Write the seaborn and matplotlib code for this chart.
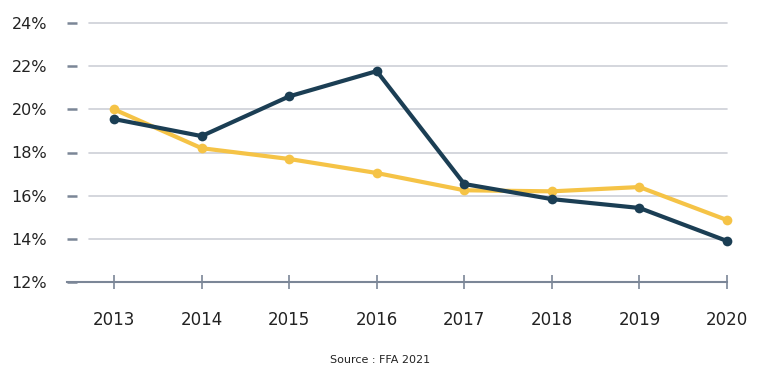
import matplotlib
matplotlib.use("Agg")
import matplotlib.pyplot as plt
import seaborn as sns
import pandas as pd

years = [2013, 2014, 2015, 2016, 2017, 2018, 2019, 2020]
series_dark = [19.55, 18.76, 20.6, 21.77, 16.54, 15.84, 15.43, 13.9]
series_yellow = [20.0, 18.2, 17.7, 17.05, 16.25, 16.2, 16.4, 14.87]
y_ticks = [12, 14, 16, 18, 20, 22, 24]
y_labels = ["12%", "14%", "16%", "18%", "20%", "22%", "24%"]
source = "Source : FFA 2021"

sns.set_theme(style="white")
plt.rcParams['font.family'] = ['DejaVu Sans']

df = pd.DataFrame({
    "year": years * 2,
    "value": series_yellow + series_dark,
    "series": ["yellow"] * len(years) + ["dark"] * len(years),
})

fig = plt.figure(figsize=(7.67, 3.78), dpi=100)
ax = fig.add_axes([67/767, 1 - 282/378, (727 - 67)/767, (282 - 23)/378])

palette = {"yellow": "#f5c346", "dark": "#1b3e54"}
sns.lineplot(data=df, x="year", y="value", hue="series", palette=palette,
             hue_order=["yellow", "dark"], marker="o", markersize=7,
             markeredgewidth=0, linewidth=3, ax=ax, legend=False)
for l in ax.lines:
    l.set_clip_on(False)

grid_col = "#cdd0d7"
tick_col = "#7b8697"
for yv in y_ticks[1:]:
    ax.axhline(yv, xmin=22/660, xmax=1, color=grid_col, lw=1.2, zorder=0, clip_on=False)

ax.set_xlim(2013 - 47/87.57, 2020)
ax.set_ylim(12, 24)
ax.set_yticks(y_ticks)
ax.set_yticklabels(y_labels)
ax.set_xticks(years)
ax.set_xticklabels([str(y) for y in years])

for s in ["top", "right", "left"]:
    ax.spines[s].set_visible(False)
ax.spines["bottom"].set_color(tick_col)
ax.spines["bottom"].set_linewidth(1.5)

ax.tick_params(axis="y", left=True, direction="in", length=7, width=1.8, color=tick_col,
               pad=40, labelsize=11.5, labelcolor="#222222")
for t in ax.get_yticklabels():
    t.set_horizontalalignment("left")
ax.tick_params(axis="x", bottom=True, direction="inout", length=10, width=1.2, color=tick_col,
               pad=16, labelsize=12, labelcolor="#222222")
ax.set_xlabel("")
ax.set_ylabel("")

fig.text(380/767, 1 - 360/378, source, ha="center", va="center", fontsize=8, color="#222222")

fig.savefig("out.png", dpi=100)
